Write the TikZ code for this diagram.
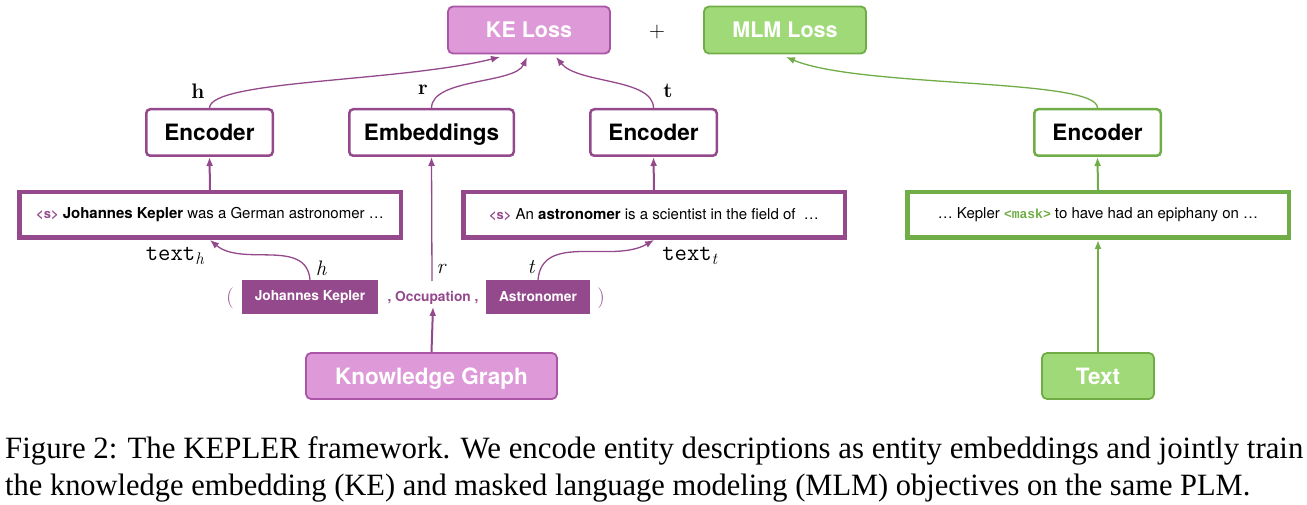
\documentclass[tikz,border=0pt]{standalone}
\usepackage{fontspec}
\usepackage{graphicx}
\setsansfont{TeX Gyre Heros}
\newfontfamily\capfont{Liberation Serif}
\newfontfamily\monob{Liberation Mono}
\usetikzlibrary{arrows.meta}
\definecolor{pur}{RGB}{148,73,140}
\definecolor{pinkf}{RGB}{221,153,216}
\definecolor{pinkd}{RGB}{170,85,165}
\definecolor{grn}{RGB}{112,173,71}
\definecolor{lgrn}{RGB}{160,218,120}
\tikzset{
  lossbox/.style={draw, rounded corners=5pt, line width=1.8pt, minimum width=162pt, minimum height=47pt,
    font=\sffamily\bfseries\fontsize{21.5}{24}\selectfont, text=white, inner sep=0pt, text depth=0pt},
  encbox/.style={draw, fill=white, rounded corners=4pt, line width=2.5pt, minimum height=46.5pt,
    font=\sffamily\bfseries\fontsize{22.5}{26}\selectfont, text=black, inner sep=0pt, text depth=0pt},
  txtbox/.style={draw, fill=white, line width=4.5pt, minimum width=381.5pt, minimum height=45.5pt,
    font=\sffamily\fontsize{15}{18}\selectfont, inner sep=0pt},
  entbox/.style={fill=pur, text=white, minimum height=34pt, inner sep=0pt,
    font=\sffamily\bfseries\fontsize{13.75}{16}\selectfont},
  pconn/.style={draw=pur, line width=1.3pt, -{Latex[length=9pt,width=7pt]}},
  gconn/.style={draw=grn, line width=1.3pt, -{Latex[length=9pt,width=7pt]}},
  pconnthick/.style={draw=pur, line width=2pt, -{Latex[length=9pt,width=7pt]}},
  gconnthick/.style={draw=grn, line width=2pt, -{Latex[length=9pt,width=7pt]}},
  blab/.style={font=\rmfamily\bfseries\fontsize{21}{24}\selectfont, inner sep=0pt},
  ilab/.style={font=\rmfamily\itshape\fontsize{21}{24}\selectfont, inner sep=0pt},
  tlab/.style={font=\fontsize{24}{28}\selectfont, inner sep=0pt},
}
\newcommand{\stag}{{\color{pur}\bfseries\fontsize{13}{15}\selectfont <s>}}
\begin{document}
\begin{tikzpicture}[x=1pt,y=-1pt]
\useasboundingbox (0,0) rectangle (1307,505);
% losses
\node[lossbox, fill=pinkf, draw=pinkd] (ke) at (529,30) {KE Loss};
\node[font=\rmfamily\fontsize{22}{24}\selectfont] (plus) at (657,32) {+};
\node[lossbox, fill=lgrn, draw=grn] (mlm) at (785,30) {MLM Loss};
% encoders
\node[encbox, draw=pur, minimum width=126.5pt] (enc1) at (209.5,132.5) {Encoder};
\node[encbox, draw=pur, minimum width=164.5pt] (emb) at (431.5,132.5) {Embeddings};
\node[encbox, draw=pur, minimum width=126.5pt] (enc2) at (653.5,132.5) {Encoder};
\node[encbox, draw=grn, minimum width=126.5pt] (enc3) at (1097.5,132.5) {Encoder};
% text boxes
\node[txtbox, draw=pur] (tb1) at (210,215) {\stag\ \textbf{Johannes Kepler} was a German astronomer \dots};
\node[txtbox, draw=pur] (tb2) at (654,215) {\stag\ An \textbf{astronomer} is a scientist in the field of\ \ \dots};
\node[txtbox, draw=grn] (tb3) at (1098,215) {\dots\ Kepler {\color{grn}\monob\bfseries\fontsize{13}{15}\selectfont <mask>} to have had an epiphany on \dots};
% triple
\node[font=\rmfamily\fontsize{21}{24}\selectfont, text=pur, inner sep=0pt] (lp) at (230,298) {(};
\node[entbox, minimum width=136pt] (jk) at (310,297) {Johannes Kepler};
\node[font=\sffamily\bfseries\fontsize{13.75}{16}\selectfont, text=pur, inner sep=2pt] (occ) at (433,298) {, Occupation ,};
\node[entbox, minimum width=104pt] (ast) at (538,297) {Astronomer};
\node[font=\rmfamily\fontsize{21}{24}\selectfont, text=pur, inner sep=0pt] (rp) at (601,298) {)};
% bottom sources
\node[lossbox, fill=pinkf, draw=pinkd, minimum width=251pt, minimum height=46pt, font=\sffamily\bfseries\fontsize{22.5}{26}\selectfont] (kg) at (431.5,376) {Knowledge Graph};
\node[lossbox, fill=lgrn, draw=grn, minimum width=112pt, minimum height=46pt, font=\sffamily\bfseries\fontsize{22.5}{26}\selectfont] (txt) at (1098,376) {Text};
% coordinates on the loss boxes
\coordinate (keh) at (500,57);
\coordinate (ker) at (527,57);
\coordinate (ket) at (556,57);
\coordinate (mlmi) at (786,57);
% top connectors
\draw[pconn] (enc1.north) .. controls (210,80) and (400,82) .. (keh);
\draw[pconn] (emb.north) .. controls (432,78) and (515,84) .. (ker);
\draw[pconn] (enc2.north) .. controls (653,78) and (578,84) .. (ket);
\draw[gconn] (enc3.north) .. controls (1098,78) and (860,88) .. (mlmi);
\node[blab] (lh) at (198,91) {h};
\node[blab] (lr) at (423,90) {r};
\node[blab] (lt) at (668,91) {t};
% text box to encoders
\draw[pconnthick] (tb1.north) -- (enc1.south);
\draw[pconnthick] (tb2.north) -- (enc2.south);
\draw[gconnthick] (tb3.north) -- (enc3.south);
% relation
\coordinate (rtop) at (432,281);
\draw[pconn] (rtop) -- (emb.south);
\node[ilab] (ir) at (441,269) {r};
\draw[pconnthick] (kg.north) -- (occ.south);
\draw[gconnthick] (txt.north) -- (tb3.south);
% entity to text
\draw[pconn] (jk.north) to[out=95,in=-40] (tb1.south);
\draw[pconn] (ast.north) to[out=85,in=-150] (tb2.south);
\node[ilab] (ih) at (321,268) {h};
\node[ilab] (it) at (531,267) {t};
\node[tlab] (th) at (175,256) {\ttfamily text\textsubscript{\rmfamily\itshape h}};
\node[tlab] (tt) at (690,256) {\ttfamily text\textsubscript{\rmfamily\itshape t}};
% caption
\node[anchor=base west, inner sep=0pt, font=\capfont\fontsize{31}{36}\selectfont] (cap1) at (5,458)
  {\resizebox{1298pt}{\height}{Figure 2: The KEPLER framework. We encode entity descriptions as entity embeddings and jointly train}};
\node[anchor=base west, inner sep=0pt, font=\capfont\fontsize{31}{36}\selectfont] (cap2) at (5,495)
  {\resizebox{1245pt}{\height}{the knowledge embedding (KE) and masked language modeling (MLM) objectives on the same PLM.}};
\end{tikzpicture}
\end{document}
